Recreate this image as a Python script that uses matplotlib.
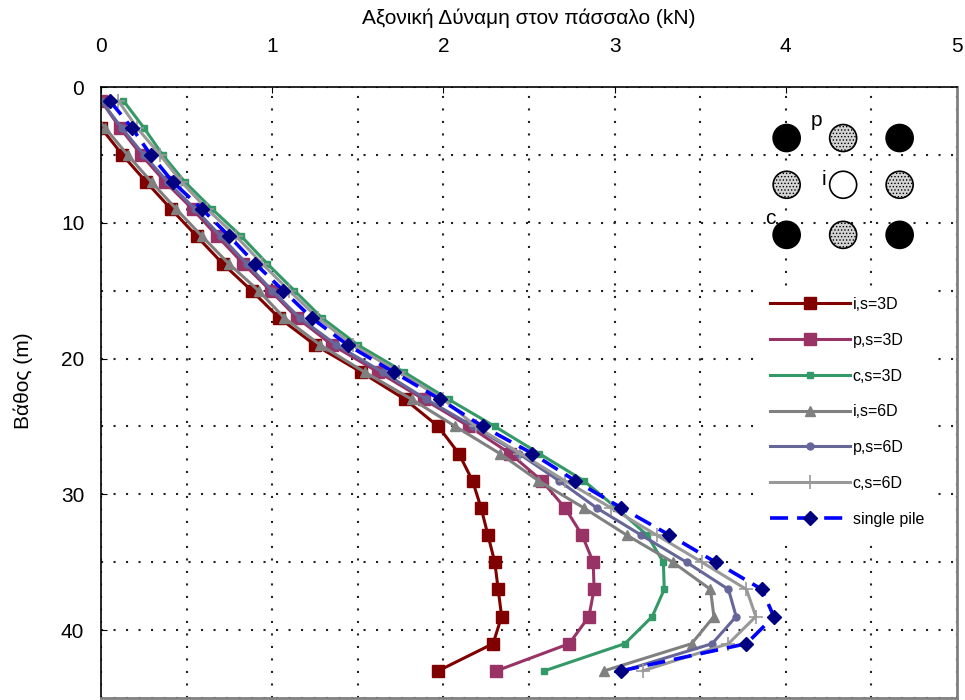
import numpy as np
import matplotlib
matplotlib.use("Agg")
import matplotlib.pyplot as plt
from matplotlib.patches import Ellipse

plt.rcParams['font.family'] = ['Liberation Sans', 'DejaVu Sans']
plt.rcParams['hatch.linewidth'] = 0.6

# depth of each measuring point (m)
depth = np.arange(1, 44, 2)

# axial force (kN) per pile position / spacing
i_3D = [-0.14, 0.0, 0.125, 0.265, 0.41, 0.56, 0.71, 0.88, 1.04, 1.25, 1.52,
        1.775, 1.97, 2.09, 2.17, 2.22, 2.26, 2.30, 2.32, 2.34, 2.29, 1.97]
p_3D = [0.0, 0.11, 0.235, 0.375, 0.535, 0.68, 0.83, 0.99, 1.145, 1.35, 1.62,
        1.885, 2.15, 2.39, 2.575, 2.71, 2.81, 2.875, 2.88, 2.85, 2.735, 2.31]
c_3D = [0.13, 0.25, 0.36, 0.49, 0.65, 0.82, 0.97, 1.13, 1.29, 1.50, 1.77,
        2.03, 2.30, 2.56, 2.82, 3.01, 3.19, 3.285, 3.29, 3.22, 3.06, 2.59]
i_6D = [-0.11, 0.023, 0.155, 0.295, 0.44, 0.59, 0.745, 0.92, 1.07, 1.28, 1.54,
        1.815, 2.07, 2.33, 2.555, 2.82, 3.07, 3.34, 3.56, 3.58, 3.45, 2.94]
p_6D = [0.0, 0.12, 0.25, 0.39, 0.55, 0.70, 0.85, 1.0, 1.16, 1.375, 1.645,
        1.90, 2.175, 2.44, 2.675, 2.895, 3.155, 3.42, 3.665, 3.71, 3.57, 3.05]
c_6D = [0.10, 0.21, 0.345, 0.47, 0.62, 0.79, 0.94, 1.10, 1.265, 1.47, 1.74,
        2.0, 2.19, 2.45, 2.71, 2.98, 3.245, 3.51, 3.77, 3.825, 3.665, 3.165]
single = [0.05, 0.18, 0.29, 0.42, 0.59, 0.75, 0.90, 1.065, 1.23, 1.44, 1.71,
          1.98, 2.23, 2.52, 2.77, 3.04, 3.32, 3.59, 3.86, 3.93, 3.77, 3.04]

fig = plt.figure(figsize=(9.65, 7.0), dpi=100)
ax = fig.add_axes([0.1047, 0.0029, 0.887, 0.8728])

lw = 2.2
ax.plot(i_3D, depth, color='#800000', lw=lw, marker='s', ms=8, label='i,s=3D')
ax.plot(p_3D, depth, color='#993366', lw=lw, marker='s', ms=8, label='p,s=3D')
ax.plot(c_3D, depth, color='#339966', lw=lw, marker='s', ms=5, label='c,s=3D')
ax.plot(i_6D, depth, color='#808080', lw=lw, marker='^', ms=7, label='i,s=6D')
ax.plot(p_6D, depth, color='#666699', lw=lw, marker='o', ms=5, label='p,s=6D')
ax.plot(c_6D, depth, color='#999999', lw=lw, marker='+', ms=10, mew=1.2,
        label='c,s=6D')
ax.plot(single, depth, color='#0000ff', lw=2.6, dashes=(5, 2.5), marker='D',
        ms=7, mfc='#000080', mec='#000080', label='single pile')

ax.set_xlim(0, 5)
ax.set_ylim(45, 0)
ax.xaxis.tick_top()
ax.xaxis.set_label_position('top')
ax.set_xticks(np.arange(0, 6, 1))
ax.set_yticks(np.arange(0, 50, 10))
ax.set_xticks(np.arange(0, 5.01, 0.5), minor=True)
ax.set_yticks(np.arange(0, 45.1, 5), minor=True)
ax.tick_params(which='major', direction='in', length=4, labelsize=15)
ax.tick_params(axis='x', which='major', pad=22)
ax.tick_params(axis='y', which='major', pad=12)
ax.tick_params(which='minor', length=0)
ax.grid(which='both', color='#222222', lw=1.5, linestyle=(0, (1, 5)))
ax.set_axisbelow(True)

for side in ['left', 'top']:
    ax.spines[side].set_color('black')
    ax.spines[side].set_linewidth(1.2)
for side in ['right', 'bottom']:
    ax.spines[side].set_color('#808080')
    ax.spines[side].set_linewidth(2)

ax.set_xlabel('Αξονική Δύναμη στον πάσσαλο (kN)', fontsize=15, labelpad=10)
ax.set_ylabel('Βάθος (m)', fontsize=15)
ax.yaxis.set_label_coords(-0.079, 0.52)

leg = ax.legend(loc='upper left', bbox_to_anchor=(0.770, 0.672), fontsize=11.5,
                handlelength=5.0, handletextpad=0.2, labelspacing=1.3,
                numpoints=1, frameon=True, facecolor='white', edgecolor='none',
                framealpha=1, fancybox=False, borderaxespad=0, borderpad=0.6)

# pile group sketch
w, h = 27 / 856, 27 / 611
xs = [0.801, 0.867, 0.933]
ys = [0.9165, 0.840, 0.758]
kinds = [['c', 'p', 'c'], ['p', 'i', 'p'], ['c', 'p', 'c']]
for r, yy in enumerate(ys):
    for k, xx in enumerate(xs):
        kind = kinds[r][k]
        if kind == 'c':
            e = Ellipse((xx, yy), w, h, transform=ax.transAxes, fc='black',
                        ec='black', lw=1.2, zorder=5)
        elif kind == 'p':
            e = Ellipse((xx, yy), w, h, transform=ax.transAxes, fc='#d4d4d4',
                        ec='black', lw=1.2, hatch='.....', zorder=5)
        else:
            e = Ellipse((xx, yy), w, h, transform=ax.transAxes, fc='white',
                        ec='black', lw=1.2, zorder=5)
        ax.add_patch(e)
ax.text(0.836, 0.945, 'p', transform=ax.transAxes, fontsize=15, ha='center',
        va='center', zorder=6)
ax.text(0.845, 0.848, 'i', transform=ax.transAxes, fontsize=15, ha='center',
        va='center', zorder=6)
ax.text(0.782, 0.785, 'c', transform=ax.transAxes, fontsize=15, ha='center',
        va='center', zorder=6)

fig.savefig('out.png', dpi=100)
